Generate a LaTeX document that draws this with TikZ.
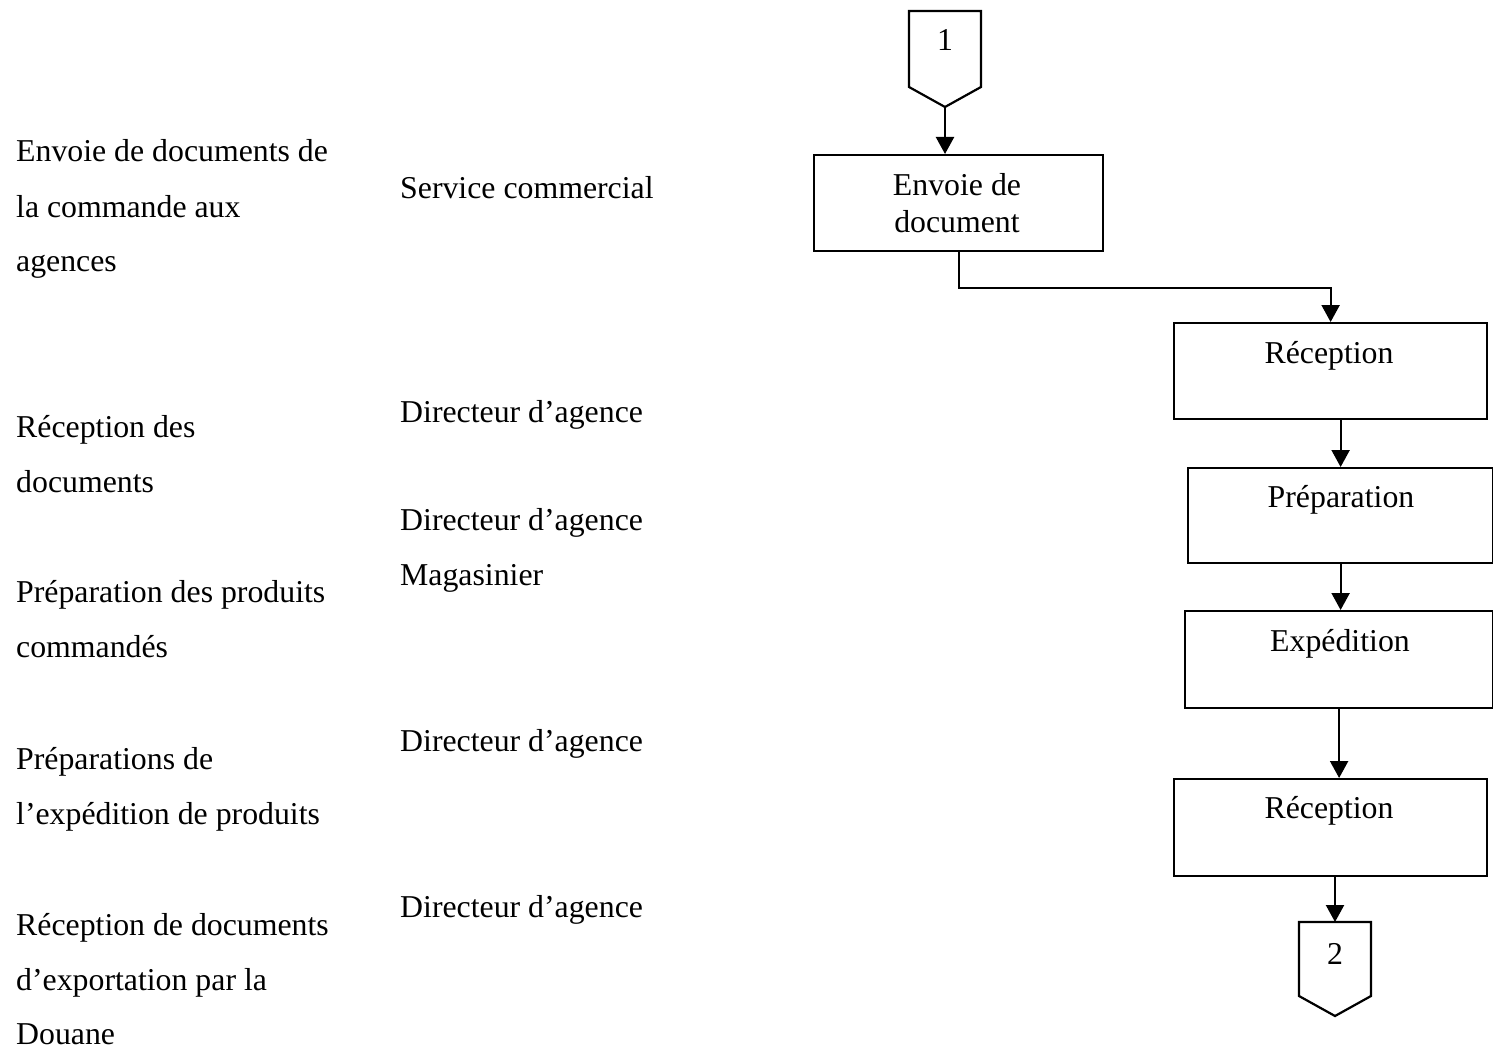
\documentclass[tikz,border=0pt]{standalone}
\usepackage{fontspec}
\setmainfont{Liberation Serif}
\usetikzlibrary{arrows.meta}
\begin{document}
\begin{tikzpicture}[x=1pt,y=-1pt,
  every node/.style={font=\fontsize{31.8}{36}\selectfont, inner sep=0pt},
  txt/.style={anchor=base west},
  lbl/.style={anchor=base},
  box/.style={draw, line width=2.2pt, anchor=north west},
  edge/.style={line width=2.2pt, line join=miter},
  flow/.style={edge, -{Triangle[width=18pt,length=17pt]}},
]
\useasboundingbox (0,0) rectangle (1493,1051);

% --- left column: steps
\node[txt] (s1a) at (16,162)  {Envoie de documents de};
\node[txt] (s1b) at (16,217)  {la commande aux};
\node[txt] (s1c) at (16,271)  {agences};
\node[txt] (s2a) at (16,437)  {Réception des};
\node[txt] (s2b) at (16,492)  {documents};
\node[txt] (s3a) at (16,602)  {Préparation des produits};
\node[txt] (s3b) at (16,657)  {commandés};
\node[txt] (s4a) at (16,769)  {Préparations de};
\node[txt] (s4b) at (16,824)  {l’expédition de produits};
\node[txt] (s5a) at (16,935)  {Réception de documents};
\node[txt] (s5b) at (16,990)  {d’exportation par la};
\node[txt] (s5c) at (16,1044) {Douane};

% --- middle column: actors
\node[txt] (a1)  at (400,199) {Service commercial};
\node[txt] (a2)  at (400,422) {Directeur d’agence};
\node[txt] (a3)  at (400,530) {Directeur d’agence};
\node[txt] (a3b) at (400,585) {Magasinier};
\node[txt] (a4)  at (400,751) {Directeur d’agence};
\node[txt] (a5)  at (400,917) {Directeur d’agence};

% --- flowchart: off-page connectors
\draw[edge] (909,11) -- (981,11) -- (981,87) -- (945,107) -- (909,87) -- cycle;
\coordinate (p1tip) at (945,107);
\node[lbl] (p1) at (945,51) {1};

\draw[edge] (1299,922) -- (1371,922) -- (1371,996) -- (1335,1016) -- (1299,996) -- cycle;
\coordinate (p2top) at (1335,922);
\node[lbl] (p2) at (1335,964) {2};

% --- flowchart: process boxes
\node[box, minimum width=289pt, minimum height=96pt] (env)  at (813,154)  {};
\node[box, minimum width=313pt, minimum height=96pt] (rec1) at (1173,322) {};
\node[box, minimum width=305pt, minimum height=95pt] (prep) at (1187,467) {};
\node[box, minimum width=308pt, minimum height=97pt] (exp)  at (1184,610) {};
\node[box, minimum width=313pt, minimum height=97pt] (rec2) at (1173,778) {};

\node[lbl] (envA) at (957,196) {Envoie de};
\node[lbl] (envB) at (957,232) {document};
\node[lbl] (rec1t) at (1329,363) {Réception};
\node[lbl] (prept) at (1341,507) {Préparation};
\node[lbl] (expt)  at (1340,651) {Expédition};
\node[lbl] (rec2t) at (1329,818) {Réception};

% --- flowchart: connectors
\draw[flow] (p1tip) -- (p1tip |- env.north);
\draw[flow] (env.south) -- ++(0,36) -| (rec1.north);
\draw[flow] (prep.north |- rec1.south) -- (prep.north);
\draw[flow] (prep.south) -- (prep.south |- exp.north);
\draw[flow] (exp.south) -- (exp.south |- rec2.north);
\draw[flow] (p2top |- rec2.south) -- (p2top);
\end{tikzpicture}
\end{document}
